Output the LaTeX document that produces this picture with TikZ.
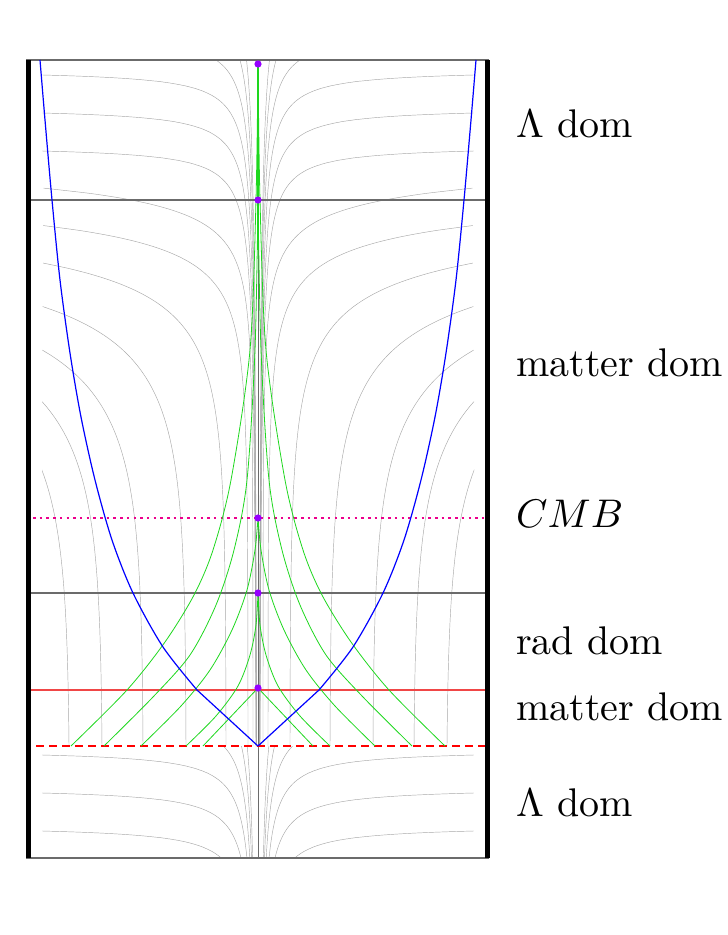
\documentclass[tikz,border=0pt]{standalone}
\definecolor{wlgray}{gray}{0.66}
\definecolor{hgray}{gray}{0.42}
\definecolor{lgreen}{RGB}{30,215,30}
\definecolor{dotpurple}{RGB}{150,0,255}
\definecolor{lred}{RGB}{240,70,70}
\begin{document}
\begin{tikzpicture}[x=1pt,y=-1pt,
  declare function={Yof(\L)=(\L<4.24)?(746-ln(1+\L/0.00418)/0.01268):(200-(\L-4.24)/0.0538);},
  wl/.style={draw=wlgray, line width=0.45pt},
  hline/.style={draw=hgray, line width=1.3pt},
  ray/.style={draw=lgreen, line width=0.8pt},
  hor/.style={draw=blue, line width=1.2pt},
  lab/.style={anchor=base west, inner sep=0pt, font=\fontsize{10}{12}\selectfont}]
\useasboundingbox (0,0) rectangle (728,935);

% comoving worldlines, middle region
\begin{scope}
\clip (42,59) rectangle (474,746);
\foreach \lnd/\sh in {5.2417/0,5.0499/0,4.7449/0,4.2767/0,3.4657/0,2.3026/0,1.6094/21.4}{
  \pgfmathsetmacro\umax{ln(5.3753-\lnd)}
  \foreach \s in {-1,1}{
    \draw[wl] ({258+\s*exp(\lnd)},746) -- plot[domain=-12:\umax, samples=200, smooth] ({258+\s*exp(\lnd+exp(\x))},{Yof(exp(\x))-\sh});
  }
}
% top region family
\foreach \yc in {151,113,75,37,-1,-39}{
  \pgfmathsetmacro\smin{ln(1200/(746-\yc+5.556))}
  \foreach \s in {-1,1}{
    \draw[wl] plot[domain=\smin:5.3753, samples=120, smooth] ({258+\s*exp(\x)},{\yc-5.556+1200*exp(-\x)});
  }
}
\end{scope}
% bottom region family
\begin{scope}
\clip (42,746) rectangle (474,858);
\foreach \yc in {831,793,755,717,679,641}{
  \pgfmathsetmacro\smin{ln(1200/(860-\yc+5.556))}
  \foreach \s in {-1,1}{
    \draw[wl] plot[domain=\smin:5.3753, samples=120, smooth] ({258+\s*exp(\x)},{\yc-5.556+1200*exp(-\x)});
  }
}
\end{scope}
\draw[draw=black!58, line width=0.8pt] (258,60) -- (258,858);

% horizontal lines
\draw[hline] (26,60) -- (489,60);
\draw[hline] (26,858) -- (489,858);
\draw[hline] (31,200) -- (485,200);
\draw[hline] (31,593) -- (485,593);
\draw[draw=lred, line width=1.5pt] (31,690) -- (485,690);
\draw[draw=magenta, line width=2.5pt, dash pattern=on 2.5pt off 4.2pt] (33,518) -- (485,518);
\draw[draw=red, line width=2.6pt, dash pattern=on 8pt off 5pt] (36,746) -- (490,746);

% light rays
\draw[draw=lgreen, line width=2.6pt] (258,64) -- (258,200);
\draw[draw=lgreen, line width=1.6pt] (258,200) -- (258,250);
\foreach \s in {-1,1}{
  \draw[ray] (258,688) -- ({258+\s*55},746);
  \draw[ray] plot[smooth] coordinates {(258,593) ({258+\s*2},625) ({258+\s*8},655) ({258+\s*20},686) ({258+\s*42},716) ({258+\s*72},746)};
  \draw[ray] plot[smooth] coordinates {(258,518) ({258+\s*3},550) ({258+\s*11},590) ({258+\s*26},630) ({258+\s*48},670) ({258+\s*77},706) ({258+\s*117},746)};
  \draw[ray] plot[smooth] coordinates {(258,200) ({258+\s*3},350) ({258+\s*11},480) ({258+\s*24},550) ({258+\s*42},605) ({258+\s*68},655) ({258+\s*105},697) ({258+\s*154},746)};
  \draw[ray] plot[smooth] coordinates {(258,64) ({258+\s*2},200) ({258+\s*8},350) ({258+\s*27},480) ({258+\s*45},550) ({258+\s*64},595) ({258+\s*93},642) ({258+\s*131},690) ({258+\s*187},746)};
  % horizon
  \draw[hor] plot[smooth] coordinates {({258+\s*218},60) ({258+\s*213},120) ({258+\s*206},200) ({258+\s*198},280) ({258+\s*188},353) ({258+\s*177},417) ({258+\s*163},480) ({258+\s*146},540) ({258+\s*125},593) ({258+\s*95},647) ({258+\s*61},690)} -- (258,746);
}

% events
\foreach \yy in {64,200,518,593,688}{
  \fill[dotpurple] (258,\yy) circle (3.6);
}

% walls
\draw[line width=5pt] (28,60) -- (28,858);
\draw[line width=5pt] (487,60) -- (487,858);

% labels
\node[lab] (l1) at (516,137) {\scalebox{4}{$\Lambda$ dom}};
\node[lab] (l2) at (516,376) {\scalebox{4}{matter dom}};
\node[lab] (l3) at (516,527) {\scalebox{4}{$CMB$}};
\node[lab] (l4) at (516,654) {\scalebox{4}{rad dom}};
\node[lab] (l5) at (516,720) {\scalebox{4}{matter dom}};
\node[lab] (l6) at (516,816) {\scalebox{4}{$\Lambda$ dom}};
\end{tikzpicture}
\end{document}
